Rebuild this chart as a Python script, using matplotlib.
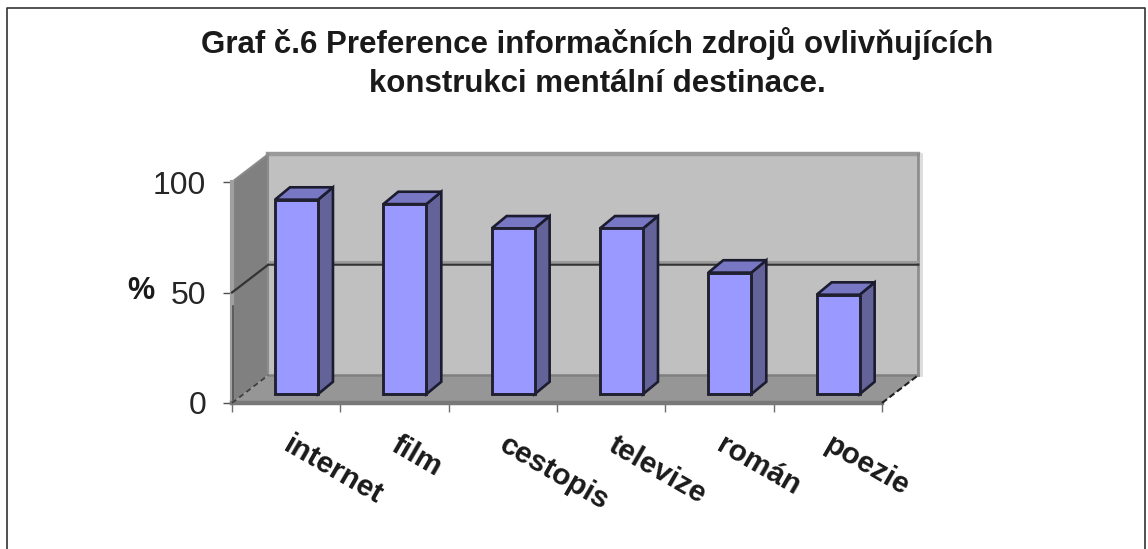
from matplotlib import pyplot as plt
import numpy as np

plt.rcParams['font.family'] = ['Liberation Sans', 'DejaVu Sans']

categories = ["internet", "film", "cestopis", "televize", "román", "poezie"]
values = [88, 86, 75, 75, 55, 45]
y_ticks = [0, 50, 100]

TITLE = "Graf č.6 Preference informačních zdrojů ovlivňujících\nkonstrukci mentální destinace."

W, H = 1148, 549
# front plane of the fake 3d box in pixels
LEFT, RIGHT, TOP, BOTTOM = 232, 882, 182, 403
# wall depth and bar depth, in data units
WALL_DX, WALL_DY = 0.335, 12.6
BAR_DX, BAR_DY = 0.138, 5.6
BAR_W = 0.397
BAR_LEFT = 0.397
BAR_LIFT = 4.0


def main():
  fig = plt.figure(figsize=(W / 100, H / 100), dpi=100, facecolor="white")
  ax = fig.add_axes([LEFT / W, 1 - BOTTOM / H, (RIGHT - LEFT) / W, (BOTTOM - TOP) / H])
  n = len(categories)
  ax.set_xlim(0, n)
  ax.set_ylim(0, 100)
  ax.patch.set_visible(False)
  for s in ax.spines.values():
    s.set_visible(False)

  dx, dy = WALL_DX, WALL_DY
  # walls and floor
  ax.fill([dx, n + dx, n + dx, dx], [dy, dy, 100 + dy, 100 + dy], color="#c0c0c0", lw=0, clip_on=False, zorder=1)
  ax.fill([0, dx, dx, 0], [0, dy, 100 + dy, 100], color="#808080", lw=0, clip_on=False, zorder=1)
  ax.fill([0, n, n + dx, dx], [0, 0, dy, dy], color="#969696", lw=0, clip_on=False, zorder=1)

  # wall edges
  ax.plot([dx, n + dx], [100 + dy, 100 + dy], color="#9a9a9a", lw=3.2, clip_on=False, zorder=2)
  ax.plot([dx, n + dx], [dy, dy], color="#808080", lw=1.8, clip_on=False, zorder=2)
  ax.plot([n + dx, n + dx], [dy, 100 + dy], color="#8c8c8c", lw=2, clip_on=False, zorder=2)
  ax.plot([n + dx + 0.022] * 2, [dy, 100 + dy], color="#dcdcdc", lw=2, clip_on=False, zorder=2)
  ax.plot([0, dx], [100, 100 + dy], color="#8a8a8a", lw=1.5, clip_on=False, zorder=2)
  ax.plot([dx, dx], [dy, 100 + dy], color="#8c8c8c", lw=1.5, clip_on=False, zorder=2)
  ax.plot([0, 0], [0, 100], color="#a0a0a0", lw=3, clip_on=False, zorder=2)
  ax.plot([0.006, 0.006], [0, 44], color="#505050", lw=1.2, clip_on=False, zorder=2)
  ax.plot([0, n], [0, 0], color="#787878", lw=3.2, clip_on=False, zorder=2)
  ax.plot([0, dx], [0, dy], color="#404040", lw=1.3, ls=(0, (3, 2)), clip_on=False, zorder=2)
  ax.plot([n, n + dx], [0, dy], color="#202020", lw=1.5, ls=(0, (3, 1.5)), clip_on=False, zorder=2)

  # gridline at 50 with its light shadow
  ax.plot([dx, n + dx], [51.2 + dy, 51.2 + dy], color="#9a9a9a", lw=1.5, clip_on=False, zorder=2)
  ax.plot([0, dx, n + dx], [50, 50 + dy, 50 + dy], color="#333333", lw=1.6, clip_on=False, zorder=2)

  # bars
  for i, v in enumerate(values):
    x0 = i + BAR_LEFT
    x1 = x0 + BAR_W
    y0 = BAR_LIFT
    y1 = BAR_LIFT + v
    ax.fill([x1, x1 + BAR_DX, x1 + BAR_DX, x1], [y0, y0 + BAR_DY, y1 + BAR_DY, y1],
            facecolor="#636399", edgecolor="#1c1c30", lw=1.9, joinstyle="miter", clip_on=False, zorder=3)
    ax.fill([x0, x1, x1 + BAR_DX, x0 + BAR_DX], [y1, y1, y1 + BAR_DY, y1 + BAR_DY],
            facecolor="#7777c4", edgecolor="#1c1c30", lw=1.9, joinstyle="miter", clip_on=False, zorder=3)
    ax.bar(x0, v, width=BAR_W, bottom=y0, align="edge", facecolor="#9999ff",
           edgecolor="#202030", lw=2.1, clip_on=False, zorder=4)

  # ticks
  ax.set_yticks(y_ticks)
  ax.tick_params(axis="y", length=6.5, width=1, color="#505050", labelsize=23, pad=12, labelcolor="#262626")
  ax.set_xticks(np.arange(n + 1))
  ax.set_xticklabels([])
  ax.tick_params(axis="x", which="major", length=6.5, width=1, color="#707070")
  ax.set_xticks(np.arange(n) + 0.56, minor=True)
  ax.set_xticklabels(categories, minor=True, rotation=-30, ha="left", va="top",
                     rotation_mode="anchor", fontsize=21.5, fontweight="bold", color="#1a1a1a")
  ax.tick_params(axis="x", which="minor", length=0, pad=20)

  # text and outer frame, in figure pixels
  fig.text(141 / W, 1 - 291 / H, "%", fontsize=22, fontweight="bold", color="#1a1a1a", ha="center", va="center")
  fig.text(597 / W, 1 - 63 / H, TITLE, fontsize=22.5, fontweight="bold", color="#1a1a1a",
           ha="center", va="center", linespacing=1.4)
  fig.add_artist(plt.Line2D([6.5 / W, 6.5 / W, 1144.5 / W, 1144.5 / W],
                            [0, 1 - 7.5 / H, 1 - 7.5 / H, 0], color="#333333", lw=1.2))

  plt.savefig("out.png", dpi=100)


if __name__ == "__main__":
  main()
